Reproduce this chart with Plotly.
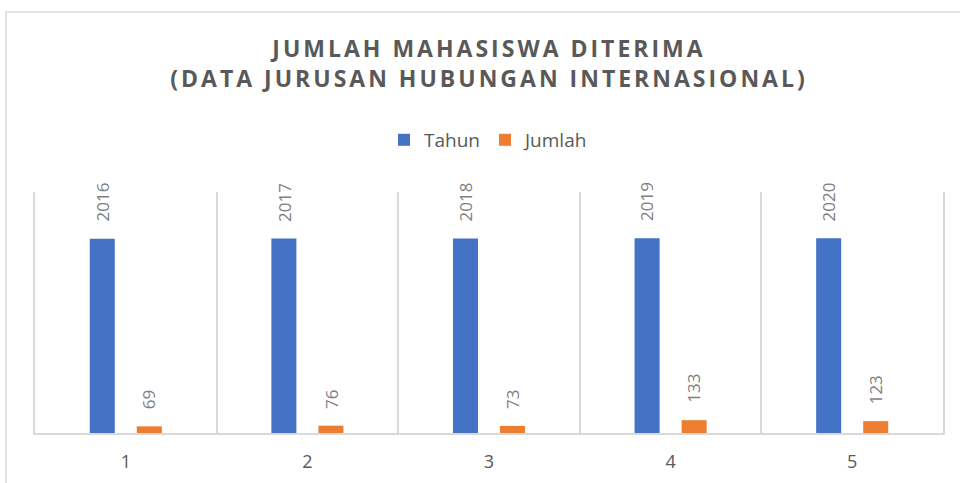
import plotly.graph_objects as go

categories = ["1", "2", "3", "4", "5"]
tahun = [2016, 2017, 2018, 2019, 2020]
jumlah = [69, 76, 73, 133, 123]

title_lines = ["JUMLAH MAHASISWA DITERIMA", "(DATA JURUSAN HUBUNGAN INTERNASIONAL)"]

BLUE = "#4472C4"
ORANGE = "#ED7D31"
GRID = "#D9D9D9"
DARK = "#595959"
LABEL = "#7F7F7F"

fig = go.Figure()
fig.add_trace(go.Bar(x=categories, y=tahun, name="Tahun", marker=dict(color=BLUE, line=dict(width=0))))
fig.add_trace(go.Bar(x=categories, y=jumlah, name="Jumlah", marker=dict(color=ORANGE, line=dict(width=0))))

annotations = []
for series, shift in ((tahun, -23.5), (jumlah, 23.5)):
    for i, v in enumerate(series):
        annotations.append(dict(
            x=i, y=v, xref="x", yref="y", text=str(v), showarrow=False,
            textangle=-90, xanchor="center", yanchor="bottom",
            xshift=shift, yshift=15,
            font=dict(family="Open Sans", size=17, color=LABEL),
        ))

title_html = "<br>".join(
    '<span style="letter-spacing:3px">%s</span>' % t for t in title_lines
)

fig.update_layout(
    width=960, height=483,
    margin=dict(l=35, r=17, t=192, b=50, autoexpand=False),
    paper_bgcolor="white", plot_bgcolor="white",
    barmode="group", bargap=0.482, bargroupgap=0.468,
    title=dict(
        text="<b>" + title_html + "</b>",
        x=0.5, xanchor="center", xref="paper",
        y=1 - 57 / 483, yanchor="top",
        font=dict(family="Open Sans", size=23, color=DARK),
    ),
    legend=dict(
        orientation="h", x=0.5, xanchor="center", xref="paper",
        y=1.216, yanchor="middle",
        font=dict(family="Open Sans", size=19, color=DARK),
        itemclick=False,
    ),
    xaxis=dict(
        type="category", tickson="boundaries", showgrid=True, gridcolor=GRID,
        gridwidth=1.5, showline=True, linecolor=GRID, linewidth=1.5,
        ticks="", tickfont=dict(family="Open Sans", size=18, color=DARK),
        ticklabelstandoff=12, automargin=False,
        range=[-0.5, 4.5],
    ),
    yaxis=dict(
        range=[0, 2500], showgrid=False, zeroline=False, showticklabels=False,
        showline=True, mirror=True, linecolor=GRID, linewidth=1.5, ticks="",
        automargin=False,
    ),
    annotations=annotations,
    showlegend=True,
)

fig.add_shape(
    type="rect", xref="paper", yref="paper",
    x0=(6 - 35) / 908, x1=(970 - 35) / 908,
    y0=-(495 - 433) / 241, y1=(433 - 12) / 241,
    line=dict(color=GRID, width=1.5), fillcolor="rgba(0,0,0,0)", layer="below",
)

fig.write_html(
    "out.html",
    config={"displayModeBar": False},
    post_script="document.body.style.margin='0';",
)
